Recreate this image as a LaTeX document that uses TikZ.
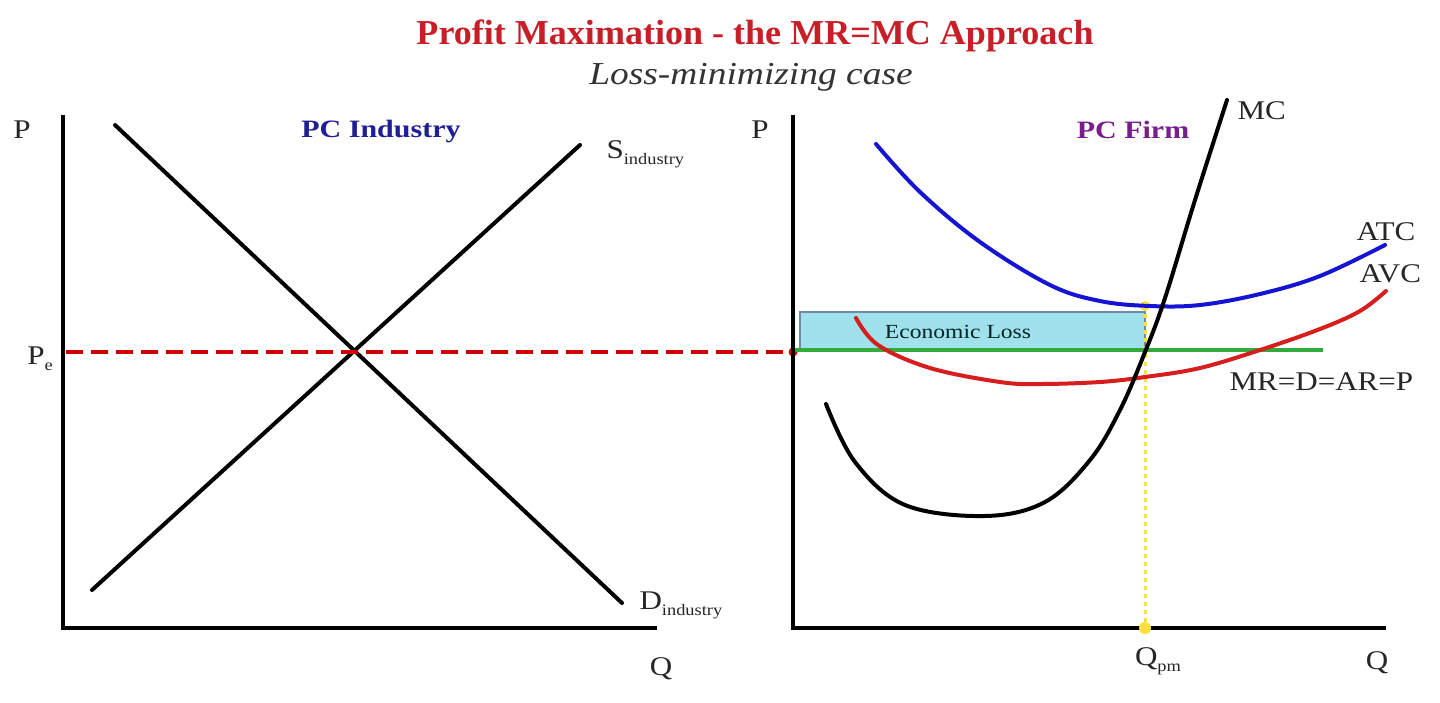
\documentclass[tikz,border=0pt]{standalone}
\usepackage{fontspec}
\usepackage{graphicx}
\setmainfont{Liberation Serif}
\definecolor{titlered}{RGB}{200,30,40}
\definecolor{pcblue}{RGB}{30,30,150}
\definecolor{pcpurple}{RGB}{120,30,140}
\definecolor{atcblue}{RGB}{20,20,210}
\definecolor{avcred}{RGB}{215,30,30}
\definecolor{mrgreen}{RGB}{50,170,60}
\definecolor{lossfill}{RGB}{160,225,235}
\definecolor{lossedge}{RGB}{110,140,170}
\definecolor{qyellow}{RGB}{250,225,60}
\newcommand{\subtxt}[1]{\raisebox{-0.5ex}{\fontsize{16}{18}\selectfont #1}}
\newcommand{\hs}[2][1.15]{\scalebox{#1}[1]{#2}}
\begin{document}
\begin{tikzpicture}[x=1pt,y=-1pt,
  axis/.style={line width=4pt,black},
  curve/.style={line width=4pt,line cap=round},
  lab/.style={font=\fontsize{27}{30}\selectfont,text=black!85}]
\useasboundingbox (0,0) rectangle (1440,702);
\fill[white] (0,0) rectangle (1440,702);
% titles
\node[font=\fontsize{35}{40}\selectfont\bfseries,text=titlered] (title) at (755,36) {\hs[1.03]{Profit Maximation - the MR=MC Approach}};
\node[font=\fontsize{32}{36}\selectfont\itshape,text=black!80] (subtitle) at (751,77) {\hs[1.17]{Loss-minimizing case}};
% left graph
\coordinate (lo) at (63,628);
\coordinate (ltop) at (63,115);
\coordinate (lright) at (657,628);
\draw[axis] (ltop) -- (lo) -- (lright);
\node[lab] (lp) at (22,130) {\hs{P}};
\node[lab] (lq) at (661,669) {\hs{Q}};
\node[lab] (lpe) at (40,359) {\hs{P\subtxt{e}}};
\node[font=\fontsize{25}{28}\selectfont\bfseries,text=pcblue] (ind) at (381,132) {\hs[1.2]{PC Industry}};
\coordinate (d1) at (115,125);
\coordinate (d2) at (622,603);
\coordinate (s1) at (92,590);
\coordinate (s2) at (580,145);
\draw[curve] (d1) -- (d2);
\draw[curve] (s1) -- (s2);
\node[lab,anchor=west] (slab) at (603,154) {\hs{S\subtxt{industry}}};
\node[lab,anchor=west] (dlab) at (636,605) {\hs{D\subtxt{industry}}};
% right graph
\coordinate (ro) at (793,628);
\coordinate (rtop) at (793,115);
\coordinate (rright) at (1386,628);
\node[lab] (rp) at (760,130) {\hs{P}};
\node[lab] (rq) at (1377,663) {\hs{Q}};
\node[lab] (rqpm) at (1158,661) {\hs{Q\subtxt{pm}}};
\node[font=\fontsize{25}{28}\selectfont\bfseries,text=pcpurple] (firm) at (1133,130) {\hs[1.2]{PC Firm}};
% economic loss box
\draw[fill=lossfill,draw=lossedge,line width=2pt] (800,312) rectangle (1145,350);
\node[font=\fontsize{20}{22}\selectfont,text=black!70!teal] (loss) at (958,332) {\hs[1.18]{Economic Loss}};
% dashed Pe line
\coordinate (pe) at (66,352);
\coordinate (pf) at (793,352);
\draw[red!80!black,line width=4pt,dash pattern=on 17pt off 8pt] (pe) -- (pf);
\fill[red!85!black] (pf) circle (4.5pt);
% green MR line
\coordinate (mr1) at (793,350);
\coordinate (mr2) at (1323,350);
\draw[mrgreen,line width=3.5pt] (mr1) -- (mr2);
\node[lab,anchor=west] (mrlab) at (1226,382) {\hs{MR=D=AR=P}};
% yellow dotted
\coordinate (y1) at (1145,306);
\coordinate (y2) at (1145,628);
\draw[qyellow,line width=3pt,dash pattern=on 4pt off 4pt] (y1) -- (y2);
% axes right
\draw[axis] (rtop) -- (ro) -- (rright);
\fill[qyellow] (y1) circle (5pt);
\fill[qyellow] (y2) circle (6pt);
% ATC
\draw[curve,atcblue] plot[smooth,tension=0.6] coordinates {(876,144) (920,192) (980,242) (1050,285) (1100,301) (1150,306) (1200,305) (1260,294) (1320,276) (1385,245)};
\node[lab,anchor=west] (atc) at (1353,232) {\hs{ATC}};
% AVC
\draw[curve,avcred] plot[smooth,tension=0.6] coordinates {(856,318) (878,345) (930,368) (1000,382) (1040,384) (1100,382) (1145,377) (1200,368) (1260,350) (1320,329) (1360,311) (1386,291)};
\node[lab,anchor=west] (avc) at (1356,274) {\hs{AVC}};
% MC
\draw[curve,black] plot[smooth,tension=0.6] coordinates {(826,404) (855,462) (905,505) (985,516) (1045,502) (1090,460) (1120,410) (1145,352) (1165,298) (1195,200) (1227,100)};
\node[lab,anchor=west] (mc) at (1234,111) {\hs{MC}};
\end{tikzpicture}
\end{document}
